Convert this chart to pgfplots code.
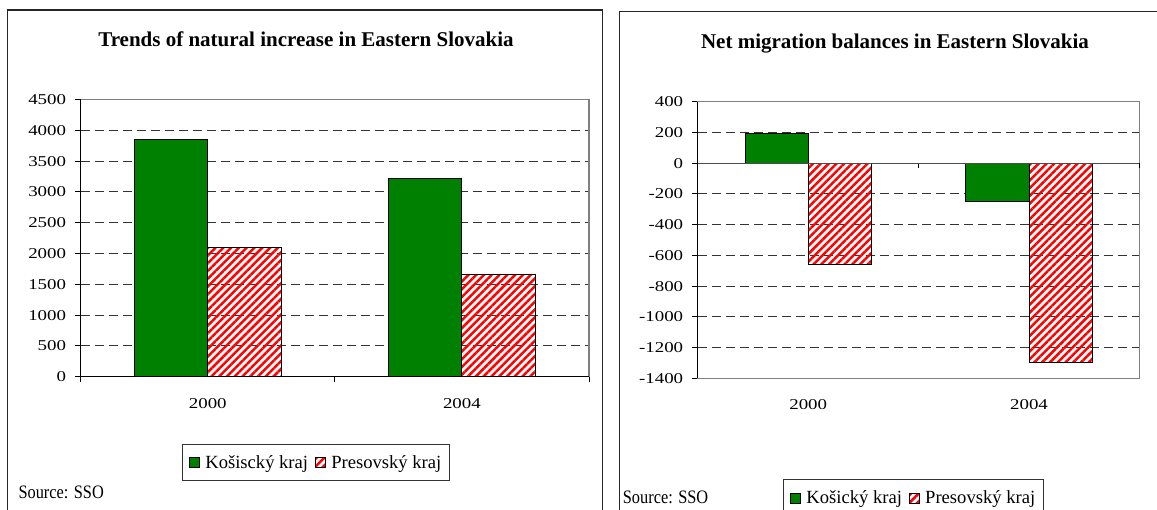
\documentclass[border=0pt]{standalone}
\usepackage{fontspec}
\setmainfont{Liberation Serif}
\newfontfamily\tickfont[FakeStretch=1.26]{Liberation Serif}
\newfontfamily\srcfont[FakeStretch=0.86]{Liberation Serif}
\usepackage{pgfplots}
\usepackage{pgfplotstable}
\pgfplotsset{compat=1.18}
\usetikzlibrary{patterns.meta}
\definecolor{kosgreen}{RGB}{0,128,0}
\definecolor{framegray}{RGB}{128,128,128}

% natural increase
\pgfplotstableread{
x kos pres
0 3851 2093
1 3213 1666
}\natdata
% net migration
\pgfplotstableread{
x kos pres
0 193 -662
1 -247 -1295
}\migdata

\pgfplotsset{
  panel/.style={
    scale only axis, anchor=south west,
    ybar=0pt,
    xmin=-0.5, xmax=1.5,
    axis line style={framegray, line width=1.2pt},
    ymajorgrids,
    grid style={black!80, line width=0.9pt, dash pattern=on 9pt off 5pt},
    ytick pos=left, xtick pos=bottom,
    tick align=outside, major tick length=5.6pt, minor tick length=5pt,
    tick style={black, line width=0.9pt},
    xtick={0,1},
    major x tick style={draw=none},
    ticklabel style={font=\tickfont\fontsize{15pt}{18pt}\selectfont},
    yticklabel style={xshift=-5.5pt},
    xticklabel style={yshift=-12.5pt},
    /pgf/number format/assume math mode=true,
    /pgf/number format/1000 sep={},
    legend columns=2,
    legend image code/.code={\draw[##1] (0pt,-5pt) rectangle (10pt,5pt);},
    legend style={draw=black!80, line width=0.9pt,
      font=\fontsize{18.6pt}{22pt}\selectfont,
      inner xsep=6.5pt, inner ysep=9pt,
      nodes={inner sep=2pt},
      /tikz/every odd column/.append style={column sep=3.6pt},
      /tikz/every even column/.append style={column sep=4.6pt}},
    every axis title shift=0pt,
    title style={font=\bfseries\fontsize{21pt}{25pt}\selectfont, anchor=base},
  },
  overlay/.style={
    scale only axis, anchor=south west,
    xmin=-0.5, xmax=1.5,
    axis line style={-, black, line width=1.1pt},
    ytick=\empty,
  },
  kos/.style={fill=kosgreen, draw=black, line width=1pt},
  pres/.style={fill=white, draw=black, line width=1pt,
    pattern={Lines[angle=45,distance=5.5pt,line width=2.5pt]}, pattern color=red},
}

\begin{document}
\begin{tikzpicture}
\useasboundingbox (0,0) rectangle (1157pt,510pt);
\clip (0,0) rectangle (1157pt,510pt);

% outer frames
\draw[black!85, line width=1.3pt] (7.3pt,-10pt) rectangle (602.7pt,500pt);
\draw[black!85, line width=1.3pt] (619.3pt,-10pt) rectangle (1180pt,498.3pt);

% ---- left: natural increase
\begin{axis}[panel,
  at={(80.7pt,133.3pt)}, width=508.3pt, height=277.2pt,
  ymin=0, ymax=4500, ytick distance=500,
  bar width=73.6pt,
  xticklabels={2000,2004},
  minor xtick={-0.5,0.5,1.5},
  title={Trends of natural increase in Eastern Slovakia},
  title style={at={(0.4433,1.1905)}},
  legend style={at={(0.463,-0.3095)}, anchor=center},
]
\addplot[kos] table[x=x, y=kos] {\natdata};
\addplot[pres] table[x=x, y=pres] {\natdata};
\legend{Košiscký kraj, Presovský kraj}
\end{axis}
\begin{axis}[overlay,
  at={(80.7pt,133.3pt)}, width=508.3pt, height=277.2pt,
  ymin=0, ymax=4500,
  axis x line*=bottom, axis y line*=left, xtick=\empty,
]
\end{axis}

% ---- right: net migration
\begin{axis}[panel,
  at={(697.8pt,131.7pt)}, width=441.6pt, height=276.6pt,
  ymin=-1400, ymax=400,
  ytick={-1400,-1200,-1000,-800,-600,-400,-200,0,200,400},
  yticklabels={-1400,-1200,-1000,-800,-600,-400,-200,0,200,400},
  bar width=63.2pt,
  xticklabels={2000,2004},
  title={Net migration balances in Eastern Slovakia},
  title style={at={(0.4466,1.194)}},
  legend style={at={(0.4885,-0.4328)}, anchor=center},
]
\addplot[kos] table[x=x, y=kos] {\migdata};
\addplot[pres] table[x=x, y=pres] {\migdata};
\legend{Košický kraj, Presovský kraj}
\end{axis}
\begin{axis}[overlay,
  at={(697.8pt,131.7pt)}, width=441.6pt, height=276.6pt,
  ymin=-1400, ymax=400,
  axis x line*=middle, axis y line*=left,
  x axis line style={black!70},
  xtick={0.5,1.5}, xticklabels={,,},
  tick align=outside, major tick length=4.5pt,
  tick style={black, line width=0.9pt},
]
\end{axis}

% source notes
\node[anchor=base west, inner sep=0, font=\srcfont\fontsize{19pt}{22pt}\selectfont]
  at (18.3pt,11.7pt) {Source: SSO};
\node[anchor=base west, inner sep=0, font=\srcfont\fontsize{19pt}{22pt}\selectfont]
  at (622.7pt,6.7pt) {Source: SSO};
\end{tikzpicture}
\end{document}
